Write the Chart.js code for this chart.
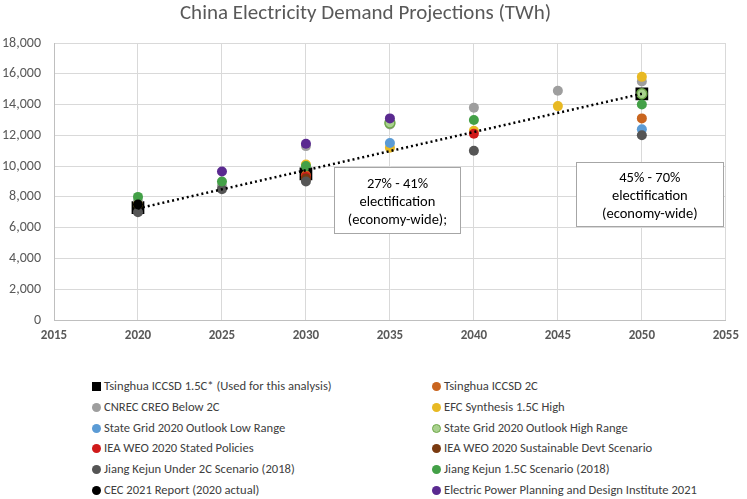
<!DOCTYPE html>
<html lang="en">
<head>
<meta charset="UTF-8" />
<title>China Electricity Demand Projections (TWh)</title>
<script src="https://cdn.jsdelivr.net/npm/chart.js"></script>
<style>
  body { margin: 0; background: #fff; font-family: Carlito, Lato, sans-serif; }
  .wrap { position: relative; width: 747px; height: 499px; overflow: hidden; }
  .chartBox { position: absolute; left: 0; top: 0; width: 747px; height: 360px; }
  .legend .item { position: absolute; font-size: 12.6px; color: #404040; line-height: 20px; white-space: nowrap; }
  .legend .mark { display: inline-block; width: 9px; height: 9px; border-radius: 50%; margin-right: 3px; vertical-align: -1px; }
</style>
</head>
<body>
<div class="wrap">
  <div class="chartBox"><canvas id="demand"></canvas></div>
  <div class="legend" id="legend"></div>
</div>
<script>
  // years on the x axis, null = no value for that year
  const years = [2020, 2025, 2030, 2035, 2040, 2045, 2050];

  const tsinghua15 = [7300, null, 9500, null, null, null, 14700];
  const tsinghua2 = [null, null, 9400, null, null, null, 13100];
  const cnrec = [7700, 8700, 11300, 12700, 13800, 14900, 15500];
  const efc = [7500, null, 10100, 11200, 12300, 13900, 15800];
  const sgLow = [null, null, null, 11500, null, null, 12400];
  const sgHigh = [null, null, null, 12800, null, null, 14700];
  const ieaSteps = [null, null, 9300, null, 12100, null, null];
  const ieaSds = [null, null, 9200, null, null, null, null];
  const jiang2 = [7000, 8500, 9000, null, 11000, null, 12000];
  const jiang15 = [8000, 9000, 10000, null, 13000, null, 14000];
  const cec = [7500, null, null, null, null, null, null];
  const eppdi = [null, 9650, 11450, 13100, null, null, null];

  // dotted trend line, ends
  const trendYears = [2020, 2050];
  const trendValues = [7250, 14700];

  const seriesNames = [
    'Tsinghua ICCSD 1.5C* (Used for this analysis)', 'Tsinghua ICCSD 2C',
    'CNREC CREO Below 2C', 'EFC Synthesis 1.5C High',
    'State Grid 2020 Outlook Low Range', 'State Grid 2020 Outlook High Range',
    'IEA WEO 2020 Stated Policies', 'IEA WEO 2020 Sustainable Devt Scenario',
    'Jiang Kejun Under 2C Scenario (2018)', 'Jiang Kejun 1.5C Scenario (2018)',
    'CEC 2021 Report (2020 actual)', 'Electric Power Planning and Design Institute 2021'
  ];
  const seriesValues = [tsinghua15, tsinghua2, cnrec, efc, sgLow, sgHigh, ieaSteps, ieaSds, jiang2, jiang15, cec, eppdi];
  const fillColors = ['#000000', '#C9651F', '#9E9E9E', '#E8B923', '#5B9BD5', '#A9D18E',
                      '#D01A1A', '#7A3A10', '#555555', '#43A047', '#000000', '#5A2A90'];
  const borderColors = ['#000000', '#C9651F', '#9E9E9E', '#E8B923', '#5B9BD5', '#6FA84A',
                        '#D01A1A', '#7A3A10', '#555555', '#43A047', '#000000', '#5A2A90'];

  const yTicks = [0, 2000, 4000, 6000, 8000, 10000, 12000, 14000, 16000, 18000];

  const notes = [
    { x1: 2031.7, x2: 2039.2, y1: 9940, y2: 5650, lines: ['27% - 41%', 'electification', '(economy-wide);'] },
    { x1: 2046.1, x2: 2054.85, y1: 10270, y2: 6110, lines: ['45% - 70%', 'electification', '(economy-wide)'] }
  ];

  const datasets = seriesValues.map((vals, i) => ({
    label: seriesNames[i],
    data: years.map((yr, k) => ({ x: yr, y: vals[k] })).filter(p => p.y !== null),
    backgroundColor: fillColors[i],
    borderColor: borderColors[i],
    borderWidth: i === 5 ? 1.5 : 0,
    pointStyle: i === 0 ? 'rect' : 'circle',
    pointRadius: i === 0 ? 9 : 5,
    pointHoverRadius: i === 0 ? 9 : 5,
    showLine: false,
    order: seriesValues.length - i
  }));

  datasets.push({
    label: 'trend',
    data: trendYears.map((yr, k) => ({ x: yr, y: trendValues[k] })),
    borderColor: '#000000',
    borderWidth: 2.5,
    borderDash: [2, 3],
    pointRadius: 0,
    showLine: true,
    order: -1
  });

  const notePlugin = {
    id: 'notes',
    afterDatasetsDraw(chart) {
      const { ctx, scales: { x, y } } = chart;
      ctx.save();
      notes.forEach(n => {
        const l = x.getPixelForValue(n.x1), r = x.getPixelForValue(n.x2);
        const t = y.getPixelForValue(n.y1), b = y.getPixelForValue(n.y2);
        ctx.fillStyle = '#ffffff';
        ctx.fillRect(l, t, r - l, b - t);
        ctx.strokeStyle = '#A6A6A6';
        ctx.lineWidth = 1;
        ctx.strokeRect(Math.round(l) + 0.5, Math.round(t) + 0.5, Math.round(r - l), Math.round(b - t));
        ctx.fillStyle = '#000000';
        ctx.font = '14.5px Carlito, Lato, sans-serif';
        ctx.textAlign = 'center';
        ctx.textBaseline = 'middle';
        const cx = (l + r) / 2, step = 18;
        const start = (t + b) / 2 - step * (n.lines.length - 1) / 2 + 2;
        n.lines.forEach((s, k) => ctx.fillText(s, cx, start + k * step));
      });
      ctx.restore();
    }
  };

  new Chart(document.getElementById('demand'), {
    type: 'scatter',
    data: { datasets },
    options: {
      responsive: true,
      maintainAspectRatio: false,
      animation: false,
      layout: { padding: { right: 16 } },
      plugins: {
        legend: { display: false },
        tooltip: { enabled: false },
        title: {
          display: true,
          text: 'China Electricity Demand Projections (TWh)',
          color: '#595959',
          font: { family: 'Carlito, Lato, sans-serif', size: 21, weight: 'normal', lineHeight: 1.2 },
          padding: { top: 1, bottom: 16.8 }
        }
      },
      scales: {
        x: {
          type: 'linear',
          min: 2015, max: 2055,
          afterFit: s => { s.height = 40; },
          ticks: {
            stepSize: 5,
            color: '#595959',
            padding: 8,
            font: { family: 'Carlito, Lato, sans-serif', size: 13, weight: 'bold' },
            callback: v => String(v)
          },
          grid: { color: '#D9D9D9', drawTicks: false },
          border: { color: '#BFBFBF' }
        },
        y: {
          min: 0, max: 18000,
          afterFit: s => { s.width = 54; },
          afterBuildTicks: s => { s.ticks = yTicks.map(v => ({ value: v })); },
          ticks: {
            color: '#595959',
            padding: 13,
            font: { family: 'Carlito, Lato, sans-serif', size: 14 },
            callback: v => v.toLocaleString('en-US')
          },
          grid: { color: '#D9D9D9', drawTicks: false },
          border: { color: '#BFBFBF' }
        }
      }
    },
    plugins: [notePlugin]
  });

  // two-column legend below the chart
  const legend = document.getElementById('legend');
  seriesNames.forEach((name, i) => {
    const item = document.createElement('div');
    item.className = 'item';
    item.style.left = (i % 2 ? 432 : 92) + 'px';
    item.style.top = (376 + Math.floor(i / 2) * 20.8) + 'px';
    const mark = document.createElement('span');
    mark.className = 'mark';
    mark.style.background = fillColors[i];
    if (i === 0) mark.style.borderRadius = '0';
    if (i === 5) { mark.style.border = '1px solid ' + borderColors[i]; mark.style.width = '7px'; mark.style.height = '7px'; }
    item.appendChild(mark);
    item.appendChild(document.createTextNode(name));
    legend.appendChild(item);
  });
</script>
</body>
</html>
